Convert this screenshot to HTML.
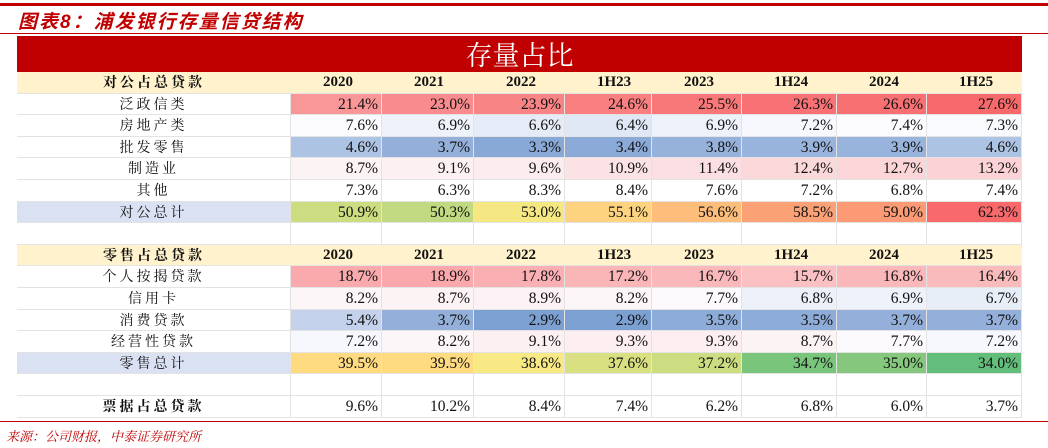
<!DOCTYPE html>
<html><head><meta charset="utf-8">
<style>
body{margin:0;width:1048px;height:448px;background:#fff;position:relative;overflow:hidden;font-family:"Liberation Serif","Noto Serif CJK SC",serif;}
#topline{position:absolute;left:0;top:3px;width:1048px;height:3px;background:#c00000;}
#title{position:absolute;left:18px;top:7px;font:italic bold 19px "Liberation Sans","Noto Sans CJK SC",sans-serif;color:#c00000;letter-spacing:2px;}
#tline{position:absolute;left:0;top:33px;width:1048px;height:1px;background:#c00000;}
#banner{position:absolute;left:17px;top:36px;width:1005px;height:36px;background:#c00000;color:#fff;font:27px "Noto Serif CJK SC",serif;text-align:center;line-height:36px;}
#grid{position:absolute;left:17px;top:72px;}
.c{position:absolute;box-sizing:border-box;border-right:1px solid #e3e3e3;border-bottom:1px solid #e3e3e3;font-size:15.5px;line-height:21px;color:#111;white-space:nowrap;}
.lab{text-align:center;font-family:"Noto Serif CJK SC",serif;font-size:14px;letter-spacing:3px;}
.hd{background:#fff2cc;font-weight:bold;border-right:none;}
.v{text-align:right;padding-right:3px;}
#bline{position:absolute;left:0;top:421px;width:1048px;height:1px;background:#c00000;}
#src{position:absolute;left:6px;top:426px;font:italic 13px "Noto Serif CJK SC",serif;color:#c00000;}
</style></head><body>
<div id="topline"></div>
<div id="title">图表8：浦发银行存量信贷结构</div>
<div id="tline"></div>
<div id="banner">存量占比</div>
<div id="grid"></div>
<div id="bline"></div>
<div id="src">来源：公司财报，中泰证券研究所</div>
<script>
const periods=["2020","2021","2022","1H23","2023","1H24","2024","1H25"];
const corpCats=["泛政信类","房地产类","批发零售","制造业","其他"];
const corpVals=[
[21.4,23.0,23.9,24.6,25.5,26.3,26.6,27.6],
[7.6,6.9,6.6,6.4,6.9,7.2,7.4,7.3],
[4.6,3.7,3.3,3.4,3.8,3.9,3.9,4.6],
[8.7,9.1,9.6,10.9,11.4,12.4,12.7,13.2],
[7.3,6.3,8.3,8.4,7.6,7.2,6.8,7.4]];
const corpTotal=[50.9,50.3,53.0,55.1,56.6,58.5,59.0,62.3];
const retailCats=["个人按揭贷款","信用卡","消费贷款","经营性贷款"];
const retailVals=[
[18.7,18.9,17.8,17.2,16.7,15.7,16.8,16.4],
[8.2,8.7,8.9,8.2,7.7,6.8,6.9,6.7],
[5.4,3.7,2.9,2.9,3.5,3.5,3.7,3.7],
[7.2,8.2,9.1,9.3,9.3,8.7,7.7,7.2]];
const retailTotal=[39.5,39.5,38.6,37.6,37.2,34.7,35.0,34.0];
const billVals=[9.6,10.2,8.4,7.4,6.2,6.8,6.0,3.7];

const colX=[0,274,365,457,548,635,725,820,910,1005];
const rowH=21.6;
function mix(a,b,t){t=Math.max(0,Math.min(1,t));return 'rgb('+a.map((v,i)=>Math.round(v+(b[i]-v)*t)).join(',')+')';}
const RED=[248,105,107],WHITE=[252,252,255],BLUE=[125,160,210],YEL=[255,235,132],GRN=[99,190,123];
function catColor(v){const lo=2.9,mid=7.4,hi=27.6;return v>=mid?mix(WHITE,RED,(v-mid)/(hi-mid)):mix(WHITE,BLUE,(mid-v)/(mid-lo));}
function ryg(v,lo,mid,hi){return v>=mid?mix(YEL,RED,(v-mid)/(hi-mid)):mix(YEL,GRN,(mid-v)/(mid-lo));}
const g=document.getElementById('grid');
function cell(r,ci,text,cls,bg,name){
 const d=document.createElement('div');
 d.className='c '+cls;
 d.style.left=colX[ci]+'px';d.style.top=(r*rowH)+'px';
 d.style.width=(colX[ci+1]-colX[ci])+'px';d.style.height=rowH+'px';
 if(bg)d.style.background=bg;
 d.textContent=text;
 
 
 g.appendChild(d);return d;}
function header(r,label){
 cell(r,0,label,'lab hd',null,'section-header');
 periods.forEach((p,i)=>{const d=cell(r,i+1,p,'hd',null,'period-header');d.style.paddingLeft='32px';d.style.fontSize='15px';});
}
function row(r,label,vals,colorFn,labBg){
 cell(r,0,label,'lab',labBg||'#fff','row-label');
 vals.forEach((v,i)=>cell(r,i+1,v.toFixed(1)+'%','v',colorFn?colorFn(v):'#fff','value-cell'));
}
function empty(r){for(let i=0;i<9;i++)cell(r,i,'','', '#fff','empty-cell');}
let r=0;
header(r++,'对公占总贷款');
corpCats.forEach((c,k)=>row(r++,c,corpVals[k],k===4?null:catColor));
row(r++,'对公总计',corpTotal,v=>ryg(v,45.5,53.5,62.3),'#d9e1f2');
empty(r++);
header(r++,'零售占总贷款');
retailCats.forEach((c,k)=>row(r++,c,retailVals[k],catColor));
row(r++,'零售总计',retailTotal,v=>ryg(v,34.0,38.8,44.5),'#d9e1f2');
empty(r++);
row(r++,'票据占总贷款',billVals,null);
g.children[g.children.length-9].style.fontWeight='bold';
</script>
</body></html>
